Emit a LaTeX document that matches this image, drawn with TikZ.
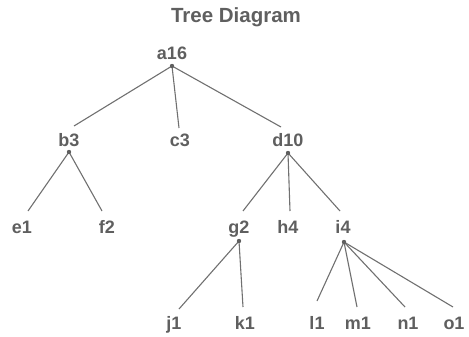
\documentclass[tikz,border=0pt]{standalone}
\usepackage{fontspec}
\setmainfont{Liberation Sans}
\definecolor{txt}{HTML}{5F5F5F}
\definecolor{edge}{HTML}{707070}
\begin{document}
\begin{tikzpicture}[x=1pt,y=-1pt,
  lbl/.style={text=txt,font=\fontsize{18}{20}\selectfont\bfseries,inner sep=0pt,anchor=base},
  ttl/.style={text=txt,font=\fontsize{20.5}{22}\selectfont\bfseries,inner sep=0pt,anchor=base},
  link/.style={draw=edge,line width=1.1pt},
  hub/.style={fill=txt}]
\useasboundingbox (0,0) rectangle (469,337);
\node[ttl] (title) at (236,22.5) {Tree Diagram};
% labels
\node[lbl] (a16) at (172,59.5) {a16};
\node[lbl] (b3) at (69,146.5) {b3};
\node[lbl] (c3) at (180,146.5) {c3};
\node[lbl] (d10) at (288,146.5) {d10};
\node[lbl] (e1) at (22,233.5) {e1};
\node[lbl] (f2) at (107,233.5) {f2};
\node[lbl] (g2) at (239,233.5) {g2};
\node[lbl] (h4) at (288,233.5) {h4};
\node[lbl] (i4) at (343,233.5) {i4};
\node[lbl] (j1) at (174,329.5) {j1};
\node[lbl] (k1) at (245,329.5) {k1};
\node[lbl] (l1) at (317,329.5) {l1};
\node[lbl] (m1) at (358,329.5) {m1};
\node[lbl] (n1) at (408,329.5) {n1};
\node[lbl] (o1) at (454,329.5) {o1};
% hub points
\coordinate (pa) at (172,66);
\coordinate (pb) at (69,152);
\coordinate (pd) at (288,153);
\coordinate (pg) at (239,241);
\coordinate (pi) at (344,242);
% line ends
\coordinate (eb) at (74,126);
\coordinate (ec) at (179,128);
\coordinate (ed) at (281,127);
\coordinate (ee) at (28,211);
\coordinate (ef) at (102,211);
\coordinate (eg) at (243,211);
\coordinate (eh) at (290,211);
\coordinate (ei) at (340,211);
\coordinate (ej) at (179,309);
\coordinate (ek) at (243,307);
\coordinate (el) at (317,301);
\coordinate (em) at (357,307);
\coordinate (en) at (405,307);
\coordinate (eo) at (453,307);
\foreach \e in {eb,ec,ed} \draw[link] (pa) -- (\e);
\foreach \e in {ee,ef} \draw[link] (pb) -- (\e);
\foreach \e in {eg,eh,ei} \draw[link] (pd) -- (\e);
\foreach \e in {ej,ek} \draw[link] (pg) -- (\e);
\foreach \e in {el,em,en,eo} \draw[link] (pi) -- (\e);
\foreach \p in {pa,pb,pd,pg,pi} \fill[hub] (\p) circle (2.2);
\end{tikzpicture}
\end{document}
